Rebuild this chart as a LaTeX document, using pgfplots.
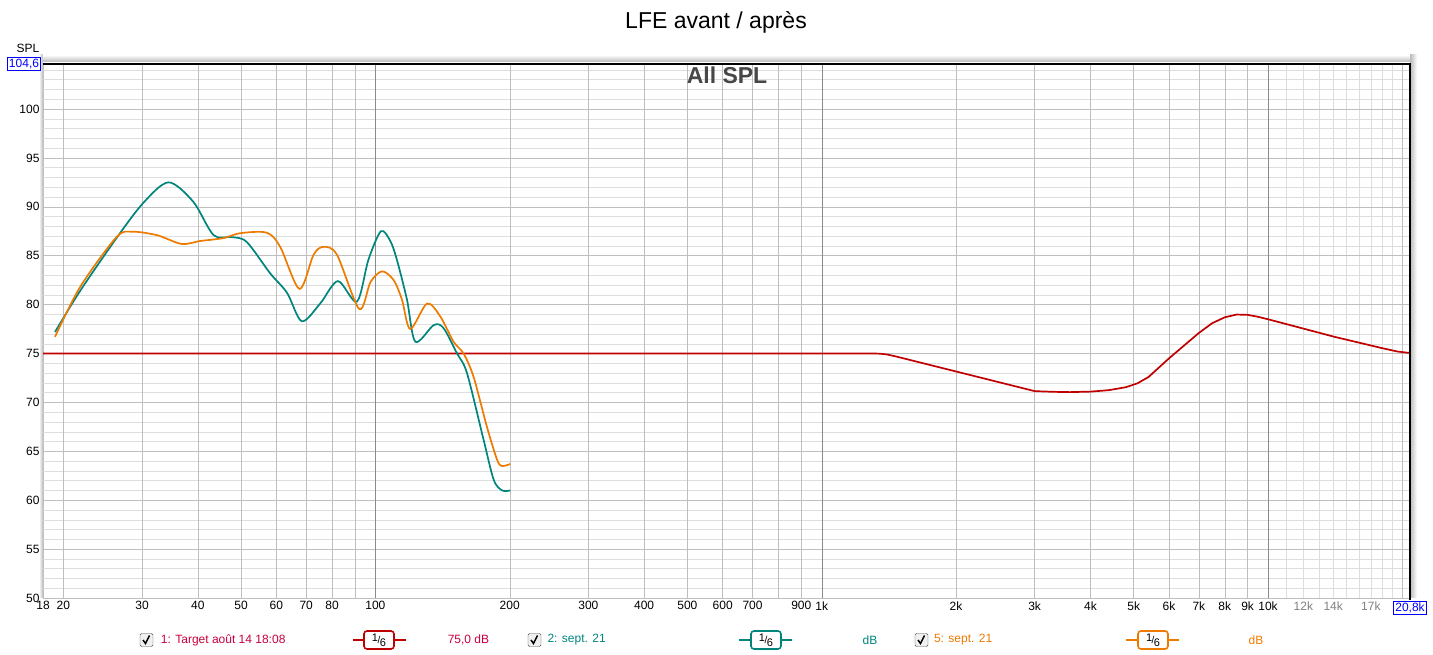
\documentclass[border=0pt]{standalone}
\usepackage{fontspec}
\setmainfont{Liberation Sans}
\usepackage{pgfplots}
\pgfplotsset{compat=1.18}
\definecolor{rewred}{HTML}{C00000}
\definecolor{rewtxt}{HTML}{C8003C}
\definecolor{rewteal}{HTML}{00857D}
\definecolor{reworange}{HTML}{EE7A00}
\definecolor{gridmaj}{HTML}{BEBEBE}
\definecolor{gridmin}{HTML}{DEDEDE}
\definecolor{griddec}{HTML}{8A8A8A}
\definecolor{rewblue}{HTML}{0000FF}

% REW style 1/6 smoothing symbol
\newcommand{\sixth}{\raisebox{2.5pt}{\fontsize{11}{11}\selectfont 1}\kern-0.5pt/\kern-0.5pt\raisebox{-2.5pt}{\fontsize{11}{11}\selectfont 6}}
\newcommand{\lbl}{\fontsize{12}{14}\selectfont}

\begin{document}
\begin{tikzpicture}[x=1pt,y=1pt]
\useasboundingbox (-43,-57) rectangle (1390,598);

% frame shadows
\shade[top color=white, bottom color=gray!55] (-4,536) rectangle (1374,543);
\shade[left color=white, right color=gray!55] (-4,0) rectangle (0,543);
\shade[left color=gray!55, right color=white] (1367,0) rectangle (1374,543);

\begin{axis}[
    at={(0,0)}, anchor=south west,
    scale only axis, width=1367pt, height=534pt,
    xmode=log, xmin=18, xmax=20800, ymin=50, ymax=104.6,
    axis line style={draw=gridmaj},
    tick style={draw=none},
    xtick={18,20,30,40,50,60,70,80,100,200,300,400,500,600,700,900,1000,2000,3000,4000,5000,6000,7000,8000,9000,10000,12000,14000,17000},
    xticklabels={18,20,30,40,50,60,70,80,100,200,300,400,500,600,700,900,1k,2k,3k,4k,5k,6k,7k,8k,9k,10k,\textcolor{gray}{12k},\textcolor{gray}{14k},\textcolor{gray}{17k}},
    ytick={50,55,60,65,70,75,80,85,90,95,100},
    yticklabels={50,55,60,65,70,75,80,85,90,95,100},
    ticklabel style={font=\lbl},
    clip=true,
]
% grid
\pgfplotsinvokeforeach{51,52,53,54,56,57,58,59,61,62,63,64,66,67,68,69,71,72,73,74,76,77,78,79,81,82,83,84,86,87,88,89,91,92,93,94,96,97,98,99,101,102,103,104}{
  \draw[gridmin] (axis cs:18,#1) -- (axis cs:20800,#1);}
\pgfplotsinvokeforeach{11000,12000,13000,14000,15000,16000,17000,18000,19000}{
  \draw[gridmin] (axis cs:#1,50) -- (axis cs:#1,104.6);}
\pgfplotsinvokeforeach{55,60,65,70,75,80,85,90,95,100}{
  \draw[gridmaj] (axis cs:18,#1) -- (axis cs:20800,#1);}
\pgfplotsinvokeforeach{20,30,40,50,60,70,80,90,200,300,400,500,600,700,800,900,2000,3000,4000,5000,6000,7000,8000,9000,20000}{
  \draw[gridmaj] (axis cs:#1,50) -- (axis cs:#1,104.6);}
\pgfplotsinvokeforeach{100,1000,10000}{
  \draw[griddec] (axis cs:#1,50) -- (axis cs:#1,104.6);}

% 1: Target
\addplot[rewred, line width=1.7pt, line join=round] coordinates {
 (18,75) (1300,75) (1350,74.98) (1400,74.9) (1450,74.75) (3000,71.15)
 (3300,71.08) (3600,71.05) (4000,71.1) (4400,71.25) (4800,71.55) (5100,71.95)
 (5400,72.6) (6000,74.5) (7000,77.1) (7500,78.1) (8000,78.7) (8500,78.98)
 (9000,78.95) (9500,78.75) (10000,78.5) (14100,76.7) (18000,75.55)
 (19500,75.2) (20800,75.05)
};
% 2: sept. 21
\addplot[rewteal, line width=1.7pt, smooth, tension=0.5] coordinates {
 (19.15,77.2) (21.8,81.4) (26.3,86.8) (30.2,90.4) (34.4,92.5) (39.1,90.5)
 (43.4,87.1) (47.7,86.9) (51.5,86.4) (58.1,83.2) (63.4,81.2) (68.4,78.3)
 (75.2,80.1) (82.4,82.4) (90.9,80.3) (96.5,84.6) (102.9,87.5) (108,86.5)
 (111.7,84.6) (117.7,80.5) (122.9,76.2) (135.1,77.9) (142.1,77.6)
 (152.4,75.0) (160.4,73.0) (174.7,66.2) (184.1,62.1) (192.2,61.0) (200.6,61.0)
};
% 5: sept. 21
\addplot[reworange, line width=1.7pt, smooth, tension=0.5] coordinates {
 (19.15,76.7) (21.8,81.8) (26.3,86.9) (28.5,87.45) (32.4,87.1) (36.8,86.2)
 (40.5,86.5) (45.7,86.8) (49.8,87.3) (57.1,87.35) (61.2,85.9) (67.6,81.6)
 (72.7,85.1) (76.5,85.9) (82.0,85.1) (92.0,79.55) (97.5,82.3) (103.5,83.4)
 (109.9,82.5) (114.7,80.5) (119.7,77.5) (130.5,80.1) (139.7,78.8)
 (149.7,76.2) (157.6,75.0) (166.0,72.6) (177.8,67.5) (187.5,64.1)
 (192.2,63.5) (200.6,63.7)
};
\end{axis}

% black top and right border
\draw[black, line width=1.2pt] (0,534) -- (1367,534) -- (1367,-2);

% titles
\node[font=\fontsize{23}{26}\selectfont] at (673,576) {LFE avant / après};
\node[font=\fontsize{23}{26}\selectfont\bfseries, text=black!72] at (684,523) {All SPL};
\node[font=\lbl] at (-15,550) {SPL};
\node[font=\lbl, draw=rewblue, text=rewblue, fill=white, inner sep=1.5pt, line width=0.8pt] at (-19,534) {104,6};
\node[font=\lbl, draw=rewblue, text=rewblue, fill=white, inner sep=1.5pt, line width=0.8pt] at (1367,-10) {20,8k};

% legend: checkboxes
\foreach \cx in {103.5,491.5,878.5}{
  \draw[draw=gray!60!black, fill=gray!12, rounded corners=1.5pt] (\cx-6.5,-48.5) rectangle (\cx+6.5,-35.5);
  \draw[line width=1.5pt] (\cx-3.5,-42) -- (\cx-1,-45.5) -- (\cx+3,-37.5);
}
\node[font=\lbl, text=rewtxt, anchor=west, inner sep=0pt] at (117.7,-42) {1: Target août 14 18:08};
\node[font=\lbl, text=rewteal, anchor=west, inner sep=0pt] at (504.3,-42) {2: sept. 21};
\node[font=\lbl, text=reworange, anchor=west, inner sep=0pt] at (890.8,-42) {5: sept. 21};

% legend: line symbols
\draw[rewred, line width=2pt] (309.6,-42) -- (362.9,-42);
\node[draw=rewred, line width=1.6pt, fill=white, rounded corners=3pt, minimum width=30pt, minimum height=18pt, inner sep=0pt] at (336,-42) {\sixth};
\draw[rewteal, line width=2pt] (695.8,-42) -- (749,-42);
\node[draw=rewteal, line width=1.6pt, fill=white, rounded corners=3pt, minimum width=30pt, minimum height=18pt, inner sep=0pt] at (723,-42) {\sixth};
\draw[reworange, line width=2pt] (1083,-42) -- (1136,-42);
\node[draw=reworange, line width=1.6pt, fill=white, rounded corners=3pt, minimum width=30pt, minimum height=18pt, inner sep=0pt] at (1110,-42) {\sixth};

\node[font=\lbl, text=rewtxt] at (425.5,-42) {75,0 dB};
\node[font=\lbl, text=rewteal] at (827,-42) {dB};
\node[font=\lbl, text=reworange] at (1213,-42) {dB};
\end{tikzpicture}
\end{document}
